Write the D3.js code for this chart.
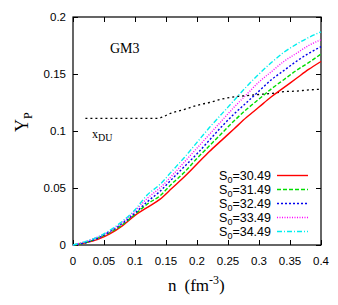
<!DOCTYPE html>
<html>
<head>
<meta charset="utf-8">
<script src="https://d3js.org/d3.v7.min.js"></script>
<style>
body { margin: 0; background: #fff; }
svg text { fill: #000; }
.tick-label { font-family: "Liberation Sans", Arial, sans-serif; font-size: 11.5px; }
.serif { font-family: "Liberation Serif", "Times New Roman", serif; }
</style>
</head>
<body>
<div id="chart"></div>
<script>
var nVals = [0, 0.02, 0.04, 0.06, 0.08, 0.10, 0.12, 0.14, 0.16, 0.18, 0.20, 0.22, 0.24, 0.26, 0.28, 0.30, 0.32, 0.34, 0.36, 0.38, 0.40];

var yp3049 = [0, 0.002, 0.005, 0.010, 0.017, 0.026, 0.033, 0.040, 0.050, 0.060, 0.071, 0.082, 0.092, 0.102, 0.112, 0.121, 0.130, 0.138, 0.146, 0.154, 0.161];
var yp3149 = [0, 0.002, 0.006, 0.011, 0.018, 0.027, 0.036, 0.043, 0.054, 0.064, 0.076, 0.087, 0.098, 0.109, 0.119, 0.128, 0.137, 0.145, 0.153, 0.160, 0.1675];
var yp3249 = [0, 0.002, 0.006, 0.012, 0.019, 0.028, 0.038, 0.047, 0.058, 0.069, 0.080, 0.092, 0.104, 0.115, 0.125, 0.135, 0.145, 0.153, 0.161, 0.168, 0.174];
var yp3349 = [0, 0.003, 0.007, 0.012, 0.020, 0.030, 0.041, 0.050, 0.061, 0.073, 0.085, 0.097, 0.109, 0.121, 0.132, 0.143, 0.152, 0.161, 0.168, 0.175, 0.180];
var yp3449 = [0, 0.003, 0.007, 0.013, 0.021, 0.031, 0.044, 0.053, 0.065, 0.077, 0.090, 0.103, 0.115, 0.127, 0.139, 0.150, 0.160, 0.169, 0.176, 0.182, 0.187];

var duN = [0.02, 0.04, 0.06, 0.08, 0.10, 0.12, 0.135, 0.16, 0.18, 0.20, 0.22, 0.24, 0.26, 0.28, 0.30, 0.32, 0.34, 0.36, 0.38, 0.40];
var duX = [0.111, 0.111, 0.111, 0.111, 0.111, 0.111, 0.111, 0.116, 0.119, 0.1225, 0.125, 0.128, 0.130, 0.131, 0.132, 0.133, 0.1345, 0.135, 0.136, 0.1366];

var seriesNames = ["30.49", "31.49", "32.49", "33.49", "34.49"];
var seriesData = [yp3049, yp3149, yp3249, yp3349, yp3449];
var seriesColors = ["#ff0000", "#00dd00", "#0000ee", "#ff00ff", "#00eeee"];
var seriesDash = [null, "4,2", "2,2", "1,1.5", "5,2,1,2"];

var xTicks = [0, 0.05, 0.1, 0.15, 0.2, 0.25, 0.3, 0.35, 0.4];
var yTicks = [0, 0.05, 0.1, 0.15, 0.2];

var W = 338, H = 305;
var pLeft = 73, pRight = 321, pTop = 17, pBottom = 245;

var svg = d3.select("#chart").append("svg").attr("width", W).attr("height", H);

var x = d3.scaleLinear().domain([0, 0.4]).range([pLeft, pRight]);
var y = d3.scaleLinear().domain([0, 0.2]).range([pBottom, pTop]);

// inward ticks on all four sides
svg.append("g").attr("transform", "translate(0," + pBottom + ")")
  .call(d3.axisTop(x).tickValues(xTicks).tickSize(5).tickFormat(""))
  .call(function(g) { g.select(".domain").remove(); });
svg.append("g").attr("transform", "translate(0," + pTop + ")")
  .call(d3.axisBottom(x).tickValues(xTicks).tickSize(5).tickFormat(""))
  .call(function(g) { g.select(".domain").remove(); });
svg.append("g").attr("transform", "translate(" + pLeft + ",0)")
  .call(d3.axisRight(y).tickValues(yTicks).tickSize(5).tickFormat(""))
  .call(function(g) { g.select(".domain").remove(); });
svg.append("g").attr("transform", "translate(" + pRight + ",0)")
  .call(d3.axisLeft(y).tickValues(yTicks).tickSize(5).tickFormat(""))
  .call(function(g) { g.select(".domain").remove(); });

svg.append("rect").attr("x", pLeft).attr("y", pTop).attr("width", pRight - pLeft).attr("height", pBottom - pTop)
  .attr("fill", "none").attr("stroke", "#000").attr("stroke-width", 1.2);

// tick labels
svg.selectAll(".xl").data(xTicks).enter().append("text").attr("class", "tick-label")
  .attr("x", function(d) { return x(d); }).attr("y", 265)
  .attr("text-anchor", "middle")
  .text(function(d) { return d3.format("")(d); });
svg.selectAll(".yl").data(yTicks).enter().append("text").attr("class", "tick-label")
  .attr("x", 66).attr("y", function(d) { return y(d) + 4; })
  .attr("text-anchor", "end")
  .text(function(d) { return d3.format("")(d); });

var line = d3.line()
  .x(function(d) { return x(d[0]); })
  .y(function(d) { return y(d[1]); })
  .curve(d3.curveMonotoneX);

svg.append("path")
  .attr("d", line(duN.map(function(n, i) { return [n, duX[i]]; })))
  .attr("fill", "none").attr("stroke", "#000").attr("stroke-width", 1.3).attr("stroke-dasharray", "2,3");

seriesData.forEach(function(vals, k) {
  svg.append("path")
    .attr("d", line(nVals.map(function(n, i) { return [n, vals[i]]; })))
    .attr("fill", "none").attr("stroke", seriesColors[k]).attr("stroke-width", 1.4)
    .attr("stroke-dasharray", seriesDash[k]);
});

// legend
seriesNames.forEach(function(s, k) {
  var ly = 175.5 + k * 14;
  var t = svg.append("text").attr("class", "tick-label").style("font-size", "12.5px")
    .attr("x", 271).attr("y", ly + 4.5).attr("text-anchor", "end");
  t.append("tspan").text("S");
  t.append("tspan").attr("dy", 3).style("font-size", "9px").text("0");
  t.append("tspan").attr("dy", -3).text("=" + s);
  svg.append("line").attr("x1", 277).attr("x2", 308).attr("y1", ly).attr("y2", ly)
    .attr("stroke", seriesColors[k]).attr("stroke-width", 1.4).attr("stroke-dasharray", seriesDash[k]);
});

// labels
svg.append("text").attr("class", "serif").attr("x", 110).attr("y", 53).style("font-size", "14px").text("GM3");

var xdu = svg.append("text").attr("class", "serif").attr("x", 92).attr("y", 138).style("font-size", "12px");
xdu.append("tspan").text("x");
xdu.append("tspan").attr("dy", 3).style("font-size", "10px").text("DU");

var xt = svg.append("text").attr("class", "serif").attr("x", 168).attr("y", 291).style("font-size", "17px");
xt.append("tspan").text("n");
xt.append("tspan").attr("dx", 8).text("(fm");
xt.append("tspan").attr("dy", -7).style("font-size", "12px").text("-3");
xt.append("tspan").attr("dy", 7).text(")");

var yt = svg.append("text").attr("class", "serif")
  .attr("transform", "translate(28,132) rotate(-90)").style("font-size", "18px");
yt.append("tspan").text("Y");
yt.append("tspan").attr("dy", 4).style("font-size", "12px").text("P");
</script>
</body>
</html>
